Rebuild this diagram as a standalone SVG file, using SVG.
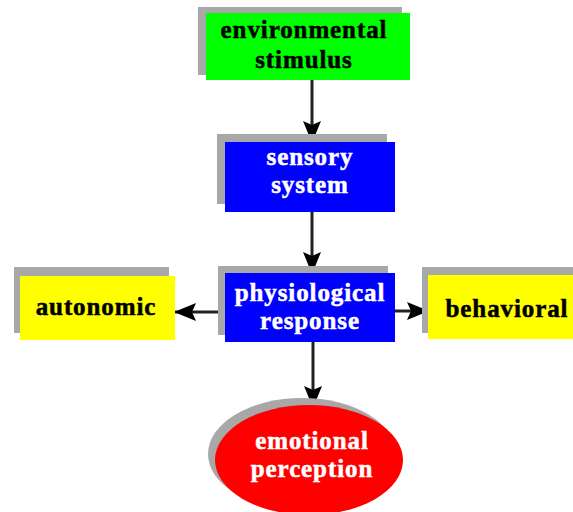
<svg xmlns="http://www.w3.org/2000/svg" width="573" height="512" viewBox="0 0 573 512">
<defs>
<style>
.sh{fill:#a8a8a8}
.t{font-family:"Liberation Serif","Times New Roman",serif;font-weight:bold;font-size:25px;letter-spacing:0.9px;text-anchor:middle;stroke-width:0.5px}
.dk{fill:#000;stroke:#000}
.wt{fill:#fff;stroke:#fff}
.ln{stroke:#222;stroke-width:3;fill:none}
</style>
<marker id="ah" viewBox="0 0 22 18" refX="21" refY="9" markerWidth="22" markerHeight="18" orient="auto" markerUnits="userSpaceOnUse">
<path d="M0,0 L22,9 L0,18 L4,9 z" fill="#000"/>
</marker>
</defs>
<rect width="573" height="512" fill="#fff"/>
<g id="connectors">
<line class="ln" x1="312" y1="80" x2="312" y2="142" marker-end="url(#ah)"/>
<line class="ln" x1="312" y1="212" x2="312" y2="273" marker-end="url(#ah)"/>
<line class="ln" x1="225" y1="312" x2="175" y2="312" marker-end="url(#ah)"/>
<line class="ln" x1="395" y1="311" x2="428" y2="311" marker-end="url(#ah)"/>
<line class="ln" x1="313" y1="342" x2="313" y2="407" marker-end="url(#ah)"/>
</g>
<g id="environmental-stimulus">
<rect class="sh" x="198" y="7" width="204" height="68"/>
<rect x="206" y="13" width="204" height="67" fill="#00ff00"/>
<text class="t dk" x="304" y="38">environmental</text>
<text class="t dk" x="304" y="68">stimulus</text>
</g>
<g id="sensory-system">
<rect class="sh" x="217" y="134" width="170" height="70"/>
<rect x="225" y="142" width="170" height="70" fill="#0000ff"/>
<text class="t wt" x="310" y="165">sensory</text>
<text class="t wt" x="310" y="193">system</text>
</g>
<g id="physiological-response">
<rect class="sh" x="218" y="266" width="170" height="69"/>
<rect x="225" y="273" width="170" height="69" fill="#0000ff"/>
<text class="t wt" x="310" y="301">physiological</text>
<text class="t wt" x="310" y="329">response</text>
</g>
<g id="autonomic">
<rect class="sh" x="14" y="267" width="155" height="66"/>
<rect x="20" y="276" width="155" height="64" fill="#ffff00"/>
<text class="t dk" x="96" y="315">autonomic</text>
</g>
<g id="behavioral">
<rect class="sh" x="422" y="267" width="151" height="66"/>
<rect x="428" y="275" width="145" height="64" fill="#ffff00"/>
<text class="t dk" x="507" y="317">behavioral</text>
</g>
<g id="emotional-perception">
<ellipse class="sh" cx="302" cy="454" rx="94" ry="56"/>
<ellipse cx="309" cy="460" rx="94" ry="55" fill="#ff0000"/>
<text class="t wt" x="312" y="449">emotional</text>
<text class="t wt" x="312" y="477">perception</text>
</g>
</svg>
